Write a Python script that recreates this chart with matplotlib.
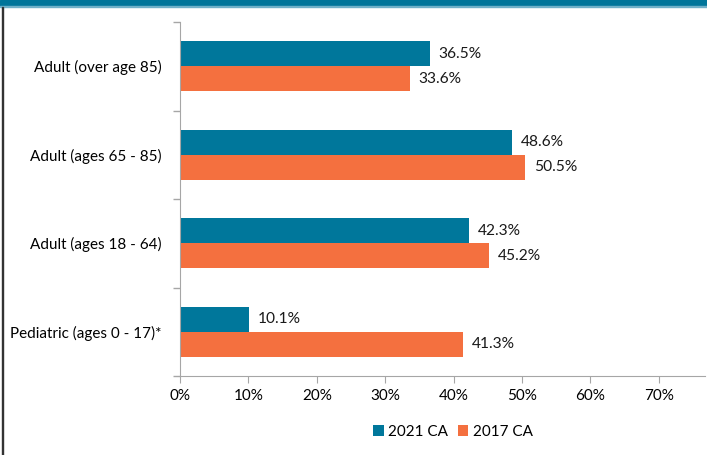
import matplotlib.pyplot as plt
from matplotlib.patches import Rectangle
from matplotlib.ticker import FuncFormatter, FixedLocator

plt.rcParams['font.family'] = ['Lato', 'DejaVu Sans']

categories = ["Pediatric (ages 0 - 17)*", "Adult (ages 18 - 64)",
              "Adult (ages 65 - 85)", "Adult (over age 85)"]
ca_2021 = [10.1, 42.3, 48.6, 36.5]
ca_2017 = [41.3, 45.2, 50.5, 33.6]
series_names = ["2021 CA", "2017 CA"]

teal = "#00779B"
orange = "#F4703F"

fig = plt.figure(figsize=(7.07, 4.55), dpi=100)

# header band and left border
fig.patches.append(Rectangle((0, 1 - 6/455), 1, 6/455, transform=fig.transFigure,
                             color="#00759A", zorder=0))
fig.patches.append(Rectangle((0, 1 - 7/455), 1, 1/455, transform=fig.transFigure,
                             color="#6FB0C8", zorder=0))
fig.patches.append(Rectangle((1.5/707, 0), 1.5/707, 1 - 7/455, transform=fig.transFigure,
                             color="#333333", zorder=0))

ax = fig.add_axes([180/707, 79/455, 525/707, 354/455])

y = list(range(len(categories)))
h = 0.285
ax.barh([v + h/2 for v in y], ca_2021, height=h, color=teal, label=series_names[0])
ax.barh([v - h/2 for v in y], ca_2017, height=h, color=orange, label=series_names[1])

for i in y:
    ax.text(ca_2021[i] + 1.3, i + h/2, f"{ca_2021[i]:.1f}%", va="center", ha="left",
            fontsize=11.2, color="#1a1a1a")
    ax.text(ca_2017[i] + 1.3, i - h/2, f"{ca_2017[i]:.1f}%", va="center", ha="left",
            fontsize=11.2, color="#1a1a1a")

ax.set_xlim(0, 76.75)
ax.set_ylim(-0.5, 3.5)
ax.set_xticks(range(0, 80, 10))
ax.xaxis.set_major_formatter(FuncFormatter(lambda v, p: f"{v:.0f}%"))
ax.set_yticks(y)
ax.set_yticklabels(categories)
ax.yaxis.set_minor_locator(FixedLocator([-0.5, 0.5, 1.5, 2.5, 3.5]))
ax.tick_params(axis="y", which="major", length=0, pad=13, labelsize=11)
ax.tick_params(axis="y", which="minor", length=5, color="#A6A6A6", width=1)
ax.tick_params(axis="x", length=5, color="#A6A6A6", labelsize=11, pad=4)

for s in ["top", "right"]:
    ax.spines[s].set_visible(False)
ax.spines["left"].set_color("#A6A6A6")
ax.spines["bottom"].set_color("#A6A6A6")

ax.legend(loc="upper center", bbox_to_anchor=(0.52, -0.1), ncol=2, frameon=False,
          fontsize=11, handlelength=0.7, handleheight=0.7, handletextpad=0.3,
          columnspacing=0.6)

fig.savefig("out.png", dpi=100)
